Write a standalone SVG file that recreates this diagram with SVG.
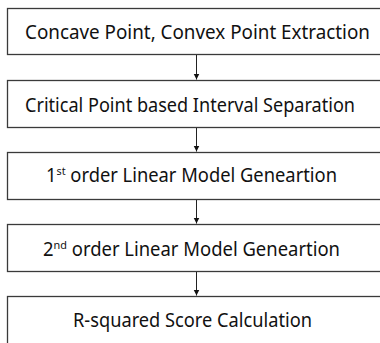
<svg xmlns="http://www.w3.org/2000/svg" width="380" height="343" viewBox="0 0 380 343">
<style>
.box{fill:#ffffff;stroke:#3a3a3a;stroke-width:1.3}
.t{font-family:"Noto Sans","Open Sans",sans-serif;font-size:19.5px;fill:#111;lengthAdjust:spacing}
.sup{font-size:11.5px}
.c{stroke:#222;stroke-width:1;fill:none}
</style>
<defs>
<marker id="ah" markerWidth="8" markerHeight="8" refX="6" refY="3" orient="auto" markerUnits="userSpaceOnUse" viewBox="0 0 8 6">
<path d="M0,0 L6,3 L0,6 Z" fill="#111"/>
</marker>
</defs>
<rect width="380" height="343" fill="#ffffff"/>
<g id="n1"><rect class="box" x="7.5" y="8.5" width="380" height="46"/><text class="t" x="25" y="39" textLength="345" lengthAdjust="spacingAndGlyphs">Concave Point, Convex Point Extraction</text></g>
<g id="n2"><rect class="box" x="7.5" y="80.5" width="380" height="47"/><text class="t" x="25" y="111.5" textLength="330" lengthAdjust="spacingAndGlyphs">Critical Point based Interval Separation</text></g>
<g id="n3"><rect class="box" x="7.5" y="152.5" width="380" height="47"/><text class="t" x="46" y="182" textLength="291" lengthAdjust="spacingAndGlyphs">1<tspan class="sup" dy="-7">st</tspan><tspan dy="7"> order Linear Model Geneartion</tspan></text></g>
<g id="n4"><rect class="box" x="7.5" y="224.5" width="380" height="47"/><text class="t" x="43" y="256" textLength="297" lengthAdjust="spacingAndGlyphs">2<tspan class="sup" dy="-7">nd</tspan><tspan dy="7"> order Linear Model Geneartion</tspan></text></g>
<g id="n5"><rect class="box" x="7.5" y="296.5" width="380" height="60"/><text class="t" x="73" y="327" textLength="239" lengthAdjust="spacingAndGlyphs">R-squared Score Calculation</text></g>
<g id="connectors">
<line class="c" x1="196.5" y1="55" x2="196.5" y2="79.5" marker-end="url(#ah)"/>
<line class="c" x1="196.5" y1="128" x2="196.5" y2="151.5" marker-end="url(#ah)"/>
<line class="c" x1="196.5" y1="200" x2="196.5" y2="223.5" marker-end="url(#ah)"/>
<line class="c" x1="196.5" y1="272" x2="196.5" y2="295.5" marker-end="url(#ah)"/>
</g>
</svg>
